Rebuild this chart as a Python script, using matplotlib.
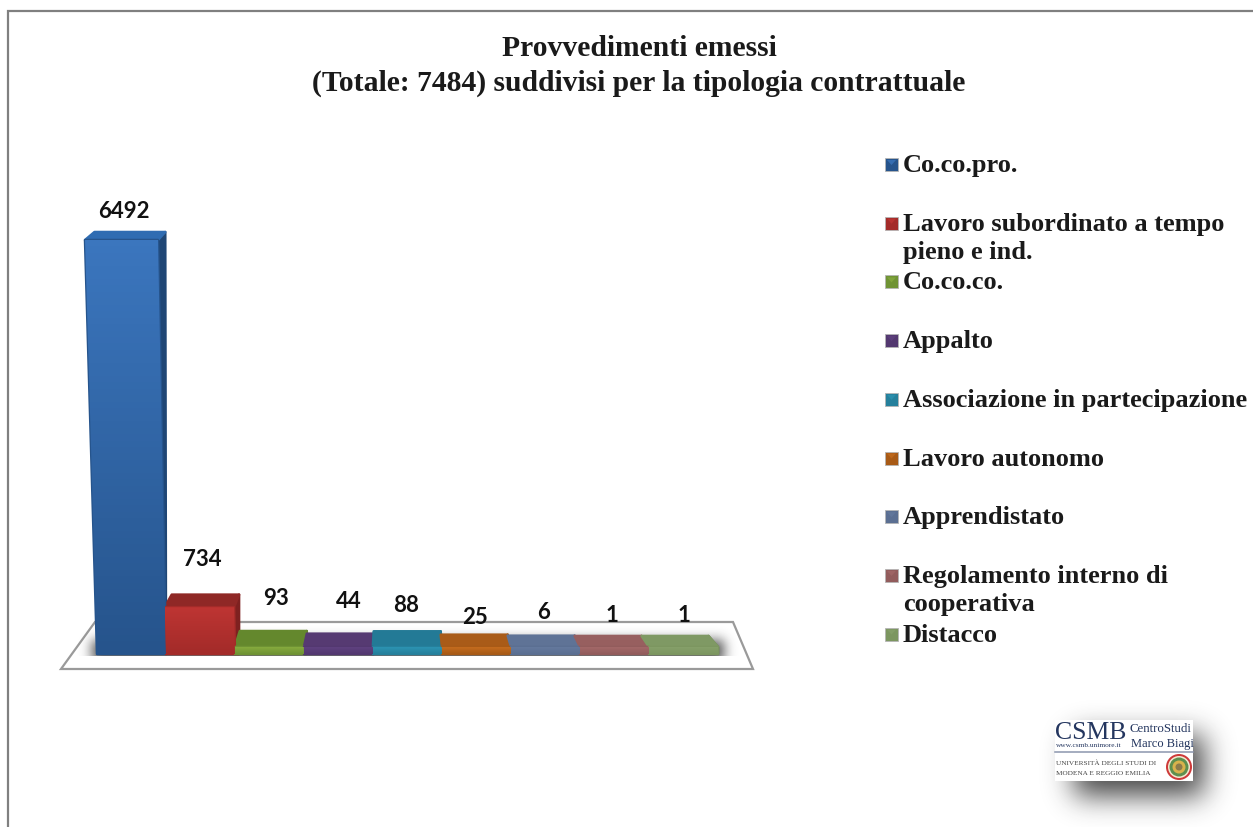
import numpy as np
import matplotlib
matplotlib.use("Agg")
import matplotlib.pyplot as plt
from matplotlib.patches import Polygon, Rectangle, Circle
from matplotlib.colors import to_rgb

# ---- data ----
categories = ["Co.co.pro.", "Lavoro subordinato a tempo\npieno e ind.", "Co.co.co.", "Appalto",
              "Associazione in partecipazione", "Lavoro autonomo", "Apprendistato",
              "Regolamento interno di\ncooperativa", "Distacco"]
values = [6492, 734, 93, 44, 88, 25, 6, 1, 1]
title_lines = ["Provvedimenti emessi", "(Totale: 7484) suddivisi per la tipologia contrattuale"]

# ---- style ----
front_light = ["#3B76BE", "#BE3533", "#86AB3E", "#5F4180", "#2C93B2", "#C46C1E", "#64799D", "#A36868", "#86A06A"]
front_dark = ["#26548C", "#A32B29", "#6F9334", "#533870", "#25809C", "#A85A16", "#5B6F92", "#925C5C", "#7C9660"]
top_col = ["#2F6CB2", "#8F2826", "#64882D", "#563A72", "#237A96", "#A95B18", "#5F7396", "#975F5F", "#7F9964"]
side_col = ["#1F4675", "#7E2120", "#55752A", "#4A3263", "#1E6A82", "#8F4D14", "#4F6180", "#805050", "#6C8455"]
label_dx = [-7.5, 1.5, 6.5, 10.5, -1.5, -1.5, -1.5, -2.5, 0.5]
label_dy = [29, 48, 50, 50, 43, 35, 41, 38, 38]

W, H = 1253, 827
fig = plt.figure(figsize=(W / 100, H / 100), dpi=100, facecolor="white")


def blur(a, r):
    k = np.exp(-0.5 * (np.arange(-3 * r, 3 * r + 1) / r) ** 2)
    k /= k.sum()
    a = np.apply_along_axis(lambda m: np.convolve(m, k, mode="same"), 0, a)
    return np.apply_along_axis(lambda m: np.convolve(m, k, mode="same"), 1, a)


def shadow(ax, x0, x1, y0, y1, pad, r, alpha, color=(0.15, 0.15, 0.15), cut=None):
    xs0, xs1, ys0, ys1 = x0 - pad, x1 + pad, y0 - pad, y1 + pad
    a = np.zeros((ys1 - ys0, xs1 - xs0))
    a[pad:-pad, pad:-pad] = 1
    a = blur(a, r) * alpha
    if cut is not None:
        a[max(cut - ys0, 0):] = 0
    img = np.zeros(a.shape + (4,))
    img[..., :3] = color
    img[..., 3] = a
    ax.imshow(img, extent=(xs0, xs1, ys1, ys0), aspect="auto", zorder=2, interpolation="bilinear")


# ---- background layer in pixel coordinates ----
bg = fig.add_axes([0, 0, 1, 1], zorder=0)
bg.set_axis_off()
bg.plot([8, 8, W], [H, 11, 11], color="#808080", lw=1.6, zorder=1, solid_joinstyle="miter")
bg.add_patch(Polygon([(61, 669), (753, 669), (733, 622), (95, 622)], closed=True,
                     fc="white", ec="#9A9A9A", lw=1.6, zorder=1))
shadow(bg, 92, 724, 640, 662, 30, 6, 0.8, cut=656)

# ---- logo ----
shadow(bg, 1074, 1204, 735, 796, 60, 14, 0.85)
bg.add_patch(Rectangle((1055, 720), 138, 61, fc="white", ec="none", zorder=3))
navy = "#24365F"
lf = "Liberation Serif"
bg.text(1055, 739, "CSMB", family=lf, fontsize=18.5, color=navy, va="baseline", zorder=4)
bg.text(1130, 732, "CentroStudi", family=lf, fontsize=9.3, color=navy, va="baseline", zorder=4)
bg.text(1131, 747, "Marco Biagi", family=lf, fontsize=9.0, color=navy, va="baseline", zorder=4)
bg.text(1056, 747, "www.csmb.unimore.it", family=lf, fontsize=5.3, color=navy, va="baseline", zorder=4)
bg.plot([1055, 1193], [752, 752], color="#8C96AD", lw=1.1, zorder=4)
bg.text(1056, 765, "UNIVERSITÀ DEGLI STUDI DI", family=lf, fontsize=5.2, color="#444444", va="baseline", zorder=4)
bg.text(1056, 775, "MODENA E REGGIO EMILIA", family=lf, fontsize=5.2, color="#444444", va="baseline", zorder=4)
for rad, c in [(13, "#CE3A3A"), (11, "#F3E9D0"), (9.5, "#5E8F4E"), (6.5, "#D9B24C"), (3.5, "#8C7A4A")]:
    bg.add_patch(Circle((1179, 767), rad, fc=c, ec="none", zorder=4))

# ---- legend (manual rows) ----
row0, pitch = 164, 58.7
for i, (name, c) in enumerate(zip(categories, front_light)):
    y = row0 + pitch * i
    bg.add_patch(Rectangle((885, y - 6), 13, 13, fc=front_dark[i], ec="#B5B5B5", lw=0.6, zorder=4))
    bg.add_patch(Polygon([(887, y - 4), (896, y - 4), (891.5, y + 1)], closed=True,
                         fc=c, ec="none", alpha=0.75, zorder=5))
    bg.text(903, y - 10, name, family=lf, weight="bold", fontsize=19, color="#1A1A1A",
            va="top", ha="left", linespacing=1.3, zorder=5)

bg.set_xlim(0, W)
bg.set_ylim(H, 0)

# ---- title ----
fig.text(639 / W, 1 - 49 / H, title_lines[0], family=lf, weight="bold", fontsize=21.3,
         color="#1A1A1A", ha="center", va="center")
fig.text(639 / W, 1 - 83 / H, title_lines[1], family=lf, weight="bold", fontsize=21.3,
         color="#1A1A1A", ha="center", va="center")

# ---- bars (data axes) ----
ax = fig.add_axes([97 / W, 1 - 654 / H, 621 / W, 414 / H], zorder=1)
ax.patch.set_alpha(0)
ax.set_axis_off()
n = len(values)
ax.set_xlim(0, n)
ax.set_ylim(0, max(values))
ppy = 414 / max(values)   # pixels per value
ppx = 621 / n             # pixels per category


def back_shift(x):
    return (4.4 - x) * 0.03


for i, v in enumerate(values):
    h_px = v * ppy
    frac = v / max(values)
    vis = max(v, 7 / ppy)
    fl_top = i - 12 / ppx * frac
    fr_top = i + 1 - 8 / ppx * frac
    depth = (8 + 10 * np.exp(-h_px / 60)) / ppy
    back = v + depth
    bl, br = fl_top + back_shift(fl_top), fr_top + back_shift(fr_top)
    kw = dict(closed=True, lw=1.8, joinstyle="round")
    ax.add_patch(Polygon([(fr_top, vis), (br, back), (max(br, i + 1), 0), (i + 1, 0)],
                         fc=side_col[i], ec=side_col[i], zorder=2, clip_on=False, **kw))
    ax.add_patch(Polygon([(fl_top, vis), (fr_top, vis), (br, back), (bl, back)],
                         fc=top_col[i], ec=top_col[i], zorder=3, clip_on=False, **kw))
    outline = [(i, 0), (i + 1, 0), (fr_top, vis), (fl_top, vis)]
    ax.add_patch(Polygon(outline, fc=front_dark[i], ec=front_dark[i], zorder=4, clip_on=False, **kw))
    g = np.linspace(0, 1, 64)[:, None, None]
    img = np.array(to_rgb(front_light[i]))[None, None, :] * (1 - g) + np.array(to_rgb(front_dark[i]))[None, None, :] * g
    im = ax.imshow(img, extent=(fl_top, i + 1, 0, vis), aspect="auto", zorder=5)
    im.set_clip_box(fig.bbox)
    im.set_clip_path(Polygon(outline, closed=True, transform=ax.transData))
    ax.annotate(f"{v}", xy=(i + 0.5, v), xytext=(label_dx[i], label_dy[i]), textcoords="offset pixels",
                family="Lato", weight="bold", fontsize=16, color="#111111", ha="center", va="center",
                annotation_clip=False, zorder=6)

ax.set_xlim(0, n)
ax.set_ylim(0, max(values))

fig.savefig("out.png", dpi=100)
